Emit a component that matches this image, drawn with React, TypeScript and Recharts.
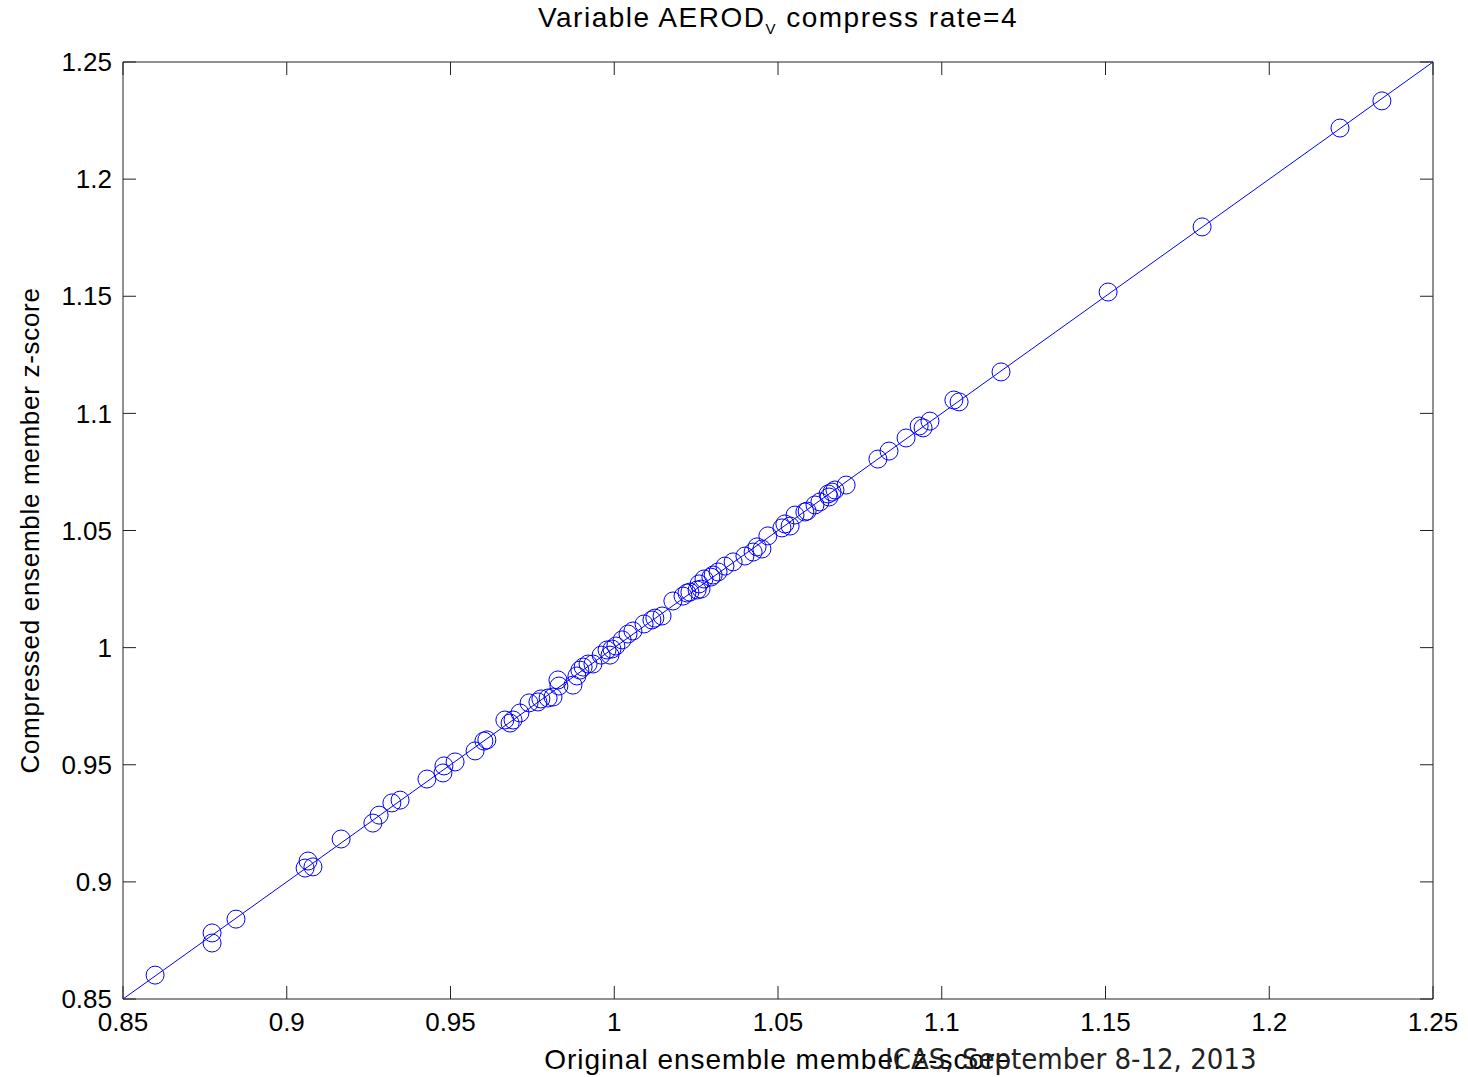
import React from "react";
import {
  ScatterChart,
  Scatter,
  XAxis,
  YAxis,
  ReferenceLine,
} from "recharts";

// original ensemble member z-score (x) and compressed z-score (y)
const originalZ = [
  0.8598, 0.8772, 0.8772, 0.8845, 0.9065, 0.9056, 0.908, 0.9166, 0.9263, 0.9282,
  0.9321, 0.9346, 0.9428, 0.9477, 0.948, 0.9514, 0.9575, 0.9602, 0.9611, 0.9666,
  0.9682, 0.9691, 0.9712, 0.974, 0.9767, 0.9776, 0.9798, 0.9813, 0.9828, 0.9831,
  0.9874, 0.9886, 0.9895, 0.9905, 0.992, 0.9935, 0.996, 0.9978, 0.9987, 0.9993,
  1.0005, 1.0024, 1.0042, 1.0057, 1.0091, 1.0115, 1.0124, 1.0146, 1.0179, 1.021,
  1.0222, 1.0231, 1.0253, 1.0259, 1.0265, 1.0274, 1.0295, 1.0302, 1.0317, 1.0338,
  1.0363, 1.0399, 1.0424, 1.0436, 1.0451, 1.0469, 1.0512, 1.0521, 1.0537, 1.0552,
  1.0582, 1.0589, 1.0613, 1.0628, 1.0653, 1.0656, 1.0665, 1.0674, 1.0708, 1.0805,
  1.0839, 1.0891, 1.0931, 1.0943, 1.0964, 1.1037, 1.1053, 1.1181, 1.1508, 1.1795,
  1.2216, 1.2344,
];
const compressedZ = [
  0.8602, 0.8782, 0.8739, 0.8841, 0.9089, 0.9059, 0.9064, 0.9183, 0.9251, 0.9285,
  0.9337, 0.9349, 0.9439, 0.9465, 0.9495, 0.9512, 0.9559, 0.9601, 0.9606, 0.9691,
  0.9678, 0.9691, 0.9721, 0.9764, 0.9768, 0.9781, 0.9785, 0.9789, 0.9862, 0.9836,
  0.984, 0.9879, 0.9904, 0.9917, 0.993, 0.993, 0.9968, 0.999, 0.9968, 0.9994,
  1.0007, 1.0033, 1.0058, 1.0071, 1.0101, 1.0118, 1.0126, 1.0135, 1.0199, 1.022,
  1.0233, 1.0237, 1.0246, 1.0272, 1.025, 1.0293, 1.0301, 1.031, 1.0323, 1.0348,
  1.0366, 1.0391, 1.0408, 1.043, 1.0421, 1.0477, 1.0511, 1.0528, 1.0519, 1.0566,
  1.0579, 1.0583, 1.0609, 1.0622, 1.0656, 1.0643, 1.0664, 1.0673, 1.0694, 1.0805,
  1.0839, 1.0895, 1.0946, 1.0938, 1.0967, 1.1057, 1.1049, 1.1177, 1.1518, 1.1796,
  1.2218, 1.2334,
];

const axisTicks = [0.85, 0.9, 0.95, 1, 1.05, 1.1, 1.15, 1.2, 1.25];
const axisDomain = [0.85, 1.25];
const identityLine = [
  { x: 0.85, y: 0.85 },
  { x: 1.25, y: 1.25 },
];

const points = originalZ.map((x, i) => ({ x, y: compressedZ[i] }));

const fmt = (v: number) => String(Number(v.toFixed(2)));

const sans = "Liberation Sans, Arial, sans-serif";
const frame = "#222";
const TICK = 13;

// matlab style ticks: pointing into the plot box
const BottomTick = (p: any) => (
  <g>
    <line x1={p.x} y1={p.y} x2={p.x} y2={p.y - TICK} stroke={frame} />
    <text x={p.x} y={p.y + 14} dy="0.71em" textAnchor="middle" fontSize={26} fontFamily={sans} fill="#000">
      {fmt(p.payload.value)}
    </text>
  </g>
);
const LeftTick = (p: any) => (
  <g>
    <line x1={p.x} y1={p.y} x2={p.x + TICK} y2={p.y} stroke={frame} />
    <text x={p.x - 11} y={p.y} dy="0.355em" textAnchor="end" fontSize={26} fontFamily={sans} fill="#000">
      {fmt(p.payload.value)}
    </text>
  </g>
);
const TopTick = (p: any) => <line x1={p.x} y1={p.y} x2={p.x} y2={p.y + TICK} stroke={frame} />;
const RightTick = (p: any) => <line x1={p.x} y1={p.y} x2={p.x - TICK} y2={p.y} stroke={frame} />;

const OpenCircle = (props: any) => (
  <circle cx={props.cx} cy={props.cy} r={9} fill="none" stroke="#0000ff" strokeWidth={1} />
);

export default function App() {
  return (
    <div style={{ position: "absolute", left: 0, top: 0, width: 1468, height: 1077, background: "#fff" }}>
      <div
        style={{
          position: "absolute",
          left: 123,
          width: 1310,
          top: 2,
          textAlign: "center",
          fontFamily: sans,
          fontSize: 28,
          letterSpacing: 1.5,
          color: "#000",
        }}
      >
        Variable AEROD<sub style={{ fontSize: 15 }}>V</sub> compress rate=4
      </div>

      <ScatterChart width={1468} height={1077} margin={{ top: 61, right: 34, bottom: 0, left: 0 }}>
        <XAxis
          xAxisId="bottom"
          type="number"
          dataKey="x"
          domain={axisDomain}
          ticks={axisTicks}
          allowDataOverflow
          height={78}
          tickSize={0}
          tickMargin={0}
          tick={BottomTick}
          stroke={frame}
          label={{
            value: "Original ensemble member z-score",
            position: "insideBottom",
            offset: 8,
            fill: "#000",
            fontSize: 28,
            letterSpacing: 1,
            fontFamily: sans,
          }}
        />
        <XAxis
          xAxisId="top"
          orientation="top"
          type="number"
          dataKey="x"
          domain={axisDomain}
          ticks={axisTicks}
          allowDataOverflow
          height={1}
          tickSize={0}
          tickMargin={0}
          tick={TopTick}
          stroke={frame}
        />
        <YAxis
          yAxisId="left"
          type="number"
          dataKey="y"
          domain={axisDomain}
          ticks={axisTicks}
          allowDataOverflow
          width={123}
          tickSize={0}
          tickMargin={0}
          tick={LeftTick}
          stroke={frame}
          label={{
            value: "Compressed ensemble member z-score",
            angle: -90,
            position: "insideLeft",
            offset: 30,
            fill: "#000",
            fontSize: 26,
            letterSpacing: 0.7,
            fontFamily: sans,
            style: { textAnchor: "middle" },
          }}
        />
        <YAxis
          yAxisId="right"
          orientation="right"
          type="number"
          dataKey="y"
          domain={axisDomain}
          ticks={axisTicks}
          allowDataOverflow
          width={1}
          tickSize={0}
          tickMargin={0}
          tick={RightTick}
          stroke={frame}
        />
        <ReferenceLine
          xAxisId="bottom"
          yAxisId="left"
          segment={identityLine}
          stroke="#0000ff"
          strokeWidth={1}
        />
        <Scatter
          xAxisId="bottom"
          yAxisId="left"
          data={points}
          shape={OpenCircle}
          isAnimationActive={false}
        />
      </ScatterChart>

      <div
        style={{
          position: "absolute",
          left: 885,
          top: 1042,
          fontFamily: "DejaVu Sans Condensed, DejaVu Sans, sans-serif",
          fontStretch: "condensed",
          fontSize: 29,
          color: "#222",
          whiteSpace: "nowrap",
        }}
      >
        ICAS, September 8-12, 2013
      </div>
    </div>
  );
}
